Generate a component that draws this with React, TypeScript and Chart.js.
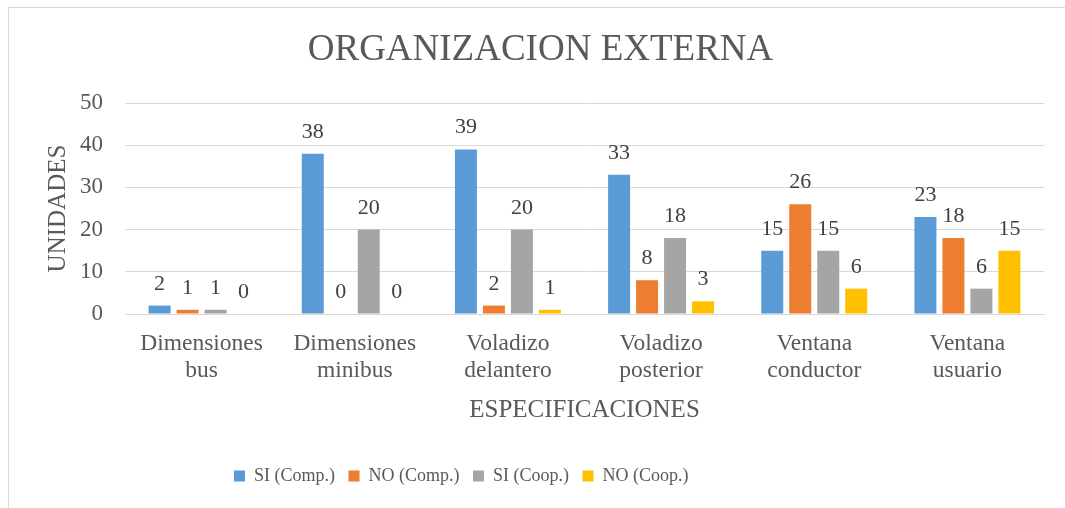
import React, { useEffect, useRef } from "react";
import { Chart, registerables } from "chart.js";

Chart.register(...registerables);

const categories: string[][] = [
  ["Dimensiones", "bus"],
  ["Dimensiones", "minibus"],
  ["Voladizo", "delantero"],
  ["Voladizo", "posterior"],
  ["Ventana", "conductor"],
  ["Ventana", "usuario"],
];
const siComp = [2, 38, 39, 33, 15, 23];
const noComp = [1, 0, 2, 8, 26, 18];
const siCoop = [1, 20, 20, 18, 15, 6];
const noCoop = [0, 0, 1, 3, 6, 15];
const seriesNames = ["SI (Comp.)", "NO (Comp.)", "SI (Coop.)", "NO (Coop.)"];
const seriesColors = ["#5B9BD5", "#ED7D31", "#A5A5A5", "#FFC000"];
const yTicks = [0, 10, 20, 30, 40, 50];

const FONT = "'Liberation Serif', 'Times New Roman', serif";
const LEGEND_SIZE = 18;

const dataLabels = {
  id: "dataLabels",
  afterDatasetsDraw(chart: any) {
    const ctx = chart.ctx;
    ctx.save();
    ctx.font = `22px ${FONT}`;
    ctx.fillStyle = "#404040";
    ctx.textAlign = "center";
    ctx.textBaseline = "alphabetic";
    chart.data.datasets.forEach((ds: any, i: number) => {
      const meta = chart.getDatasetMeta(i);
      if (!meta.visible) return;
      meta.data.forEach((el: any, j: number) => {
        ctx.fillText(String(ds.data[j]), el.x, el.y - 16);
      });
    });
    ctx.restore();
  },
};

const blockPlacer = {
  id: "blockPlacer",
  afterLayout(chart: any) {
    const lg = chart.legend;
    if (lg) {
      const pad = lg.options.labels.padding;
      const h = lg.bottom - lg.top;
      lg.left = 225 - pad;
      lg.top = 468 - pad - LEGEND_SIZE / 2;
      lg.bottom = lg.top + h;
    }
    const tb = chart.titleBlock;
    if (tb) {
      tb.left += 28;
    }
  },
};

export default function App() {
  const ref = useRef<HTMLCanvasElement | null>(null);
  useEffect(() => {
    document.body.style.overflow = "hidden";
    const values = [siComp, noComp, siCoop, noCoop];
    const chart = new Chart(ref.current!, {
      type: "bar",
      data: {
        labels: categories,
        datasets: values.map((v, i) => ({
          label: seriesNames[i],
          data: v,
          backgroundColor: seriesColors[i],
          borderWidth: 0,
          barPercentage: 0.786,
          categoryPercentage: 0.731,
        })),
      },
      options: {
        animation: false,
        responsive: true,
        maintainAspectRatio: false,
        layout: { padding: { left: 0, right: 21, top: 0, bottom: 0 } },
        plugins: {
          title: {
            display: true,
            text: "ORGANIZACION EXTERNA",
            color: "#595959",
            font: { family: FONT, size: 37, weight: "normal", lineHeight: 1.2 },
            padding: { top: 20, bottom: 30.6 },
          },
          legend: {
            position: "bottom",
            align: "start",
            labels: {
              color: "#595959",
              font: { family: FONT, size: LEGEND_SIZE },
              boxWidth: 11,
              boxHeight: 11,
              padding: 13.5,
            },
          },
          tooltip: { enabled: false },
        },
        scales: {
          x: {
            grid: { display: false, drawTicks: false },
            border: { display: true, color: "#d9d9d9", width: 1 },
            ticks: {
              color: "#595959",
              font: { family: FONT, size: 23.5, lineHeight: 1.15 },
              padding: 16.5,
              maxRotation: 0,
              autoSkip: false,
            },
            title: {
              display: true,
              text: "ESPECIFICACIONES",
              color: "#595959",
              font: { family: FONT, size: 25, weight: "normal", lineHeight: 1.2 },
              padding: { top: 0, bottom: 41.5 },
            },
            afterFit(scale: any) {
              scale.height = 152.5;
            },
          },
          y: {
            min: 0,
            max: 50,
            afterBuildTicks(scale: any) {
              scale.ticks = yTicks.map((v) => ({ value: v }));
            },
            grid: { color: "#d9d9d9", lineWidth: 1, drawTicks: false },
            border: { display: false },
            ticks: {
              color: "#595959",
              font: { family: FONT, size: 23 },
              padding: 22,
            },
            title: {
              display: true,
              text: "UNIDADES",
              color: "#595959",
              font: { family: FONT, size: 25, weight: "normal", lineHeight: 1.2 },
              padding: { top: 34, bottom: 0 },
            },
            afterFit(scale: any) {
              scale.width = 116;
            },
          },
        },
      },
      plugins: [dataLabels, blockPlacer],
    });
    return () => chart.destroy();
  }, []);
  return (
    <div
      style={{
        position: "absolute",
        top: 7,
        left: 8,
        width: 1057,
        height: 501,
        boxSizing: "border-box",
        borderTop: "1px solid #d9d9d9",
        borderLeft: "1px solid #d9d9d9",
        background: "#fff",
      }}
    >
      <canvas ref={ref} />
    </div>
  );
}
